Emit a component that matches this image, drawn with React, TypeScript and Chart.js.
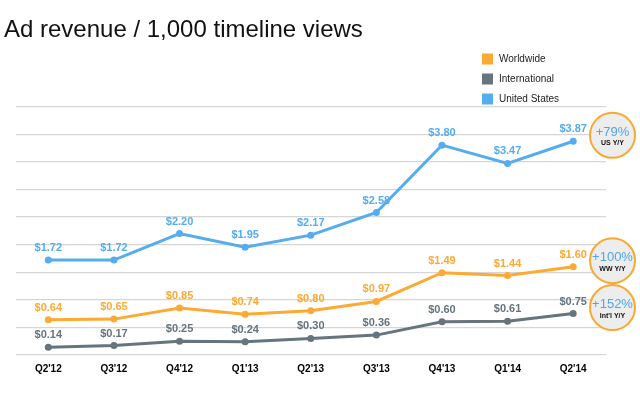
import React, { useEffect, useRef } from "react";
import { Chart, registerables } from "chart.js";

Chart.register(...registerables);

const quarters = ["Q2'12", "Q3'12", "Q4'12", "Q1'13", "Q2'13", "Q3'13", "Q4'13", "Q1'14", "Q2'14"];
const worldwide = [0.64, 0.65, 0.85, 0.74, 0.8, 0.97, 1.49, 1.44, 1.6];
const international = [0.14, 0.17, 0.25, 0.24, 0.3, 0.36, 0.6, 0.61, 0.75];
const unitedStates = [1.72, 1.72, 2.2, 1.95, 2.17, 2.58, 3.8, 3.47, 3.87];
const seriesNames = ["Worldwide", "International", "United States"];
const growthLabels = ["+100%", "+152%", "+79%"];
const growthCaptions = ["WW Y/Y", "Int'l Y/Y", "US Y/Y"];

const COLORS = ["#FBAA33", "#66747D", "#55ACEE"];
const FONT = "'Liberation Sans', Arial, sans-serif";

const overlayPlugin = {
  id: "overlay",
  afterDatasetsDraw(chart: any) {
    const ctx = chart.ctx;
    ctx.save();
    // data labels
    chart.data.datasets.forEach((ds: any, i: number) => {
      const meta = chart.getDatasetMeta(i);
      ctx.fillStyle = ds.borderColor;
      ctx.font = `bold 11px ${FONT}`;
      ctx.textAlign = "center";
      ctx.textBaseline = "middle";
      meta.data.forEach((pt: any, j: number) => {
        ctx.fillText("$" + Number(ds.data[j]).toFixed(2), pt.x, pt.y - 12);
      });
    });
    // growth circles
    const cx = 612.5;
    chart.data.datasets.forEach((ds: any, i: number) => {
      const meta = chart.getDatasetMeta(i);
      const last = meta.data[meta.data.length - 1];
      const cy = last.y - 6;
      ctx.beginPath();
      ctx.arc(cx, cy, 22.5, 0, Math.PI * 2);
      ctx.fillStyle = "#EDEDED";
      ctx.fill();
      ctx.lineWidth = 2;
      ctx.strokeStyle = "#F9A932";
      ctx.stroke();
      ctx.fillStyle = "#4FA6EA";
      ctx.font = `13px ${FONT}`;
      ctx.textAlign = "center";
      ctx.textBaseline = "middle";
      ctx.fillText(growthLabels[i], cx, cy - 3);
      ctx.fillStyle = "#111";
      ctx.font = `bold 7px ${FONT}`;
      ctx.fillText(growthCaptions[i], cx, cy + 8);
    });
    // legend
    seriesNames.forEach((name, i) => {
      const y = 59 + i * 20;
      ctx.fillStyle = COLORS[i];
      ctx.fillRect(482, y - 5.5, 11, 11);
      ctx.fillStyle = "#222";
      ctx.font = `10px ${FONT}`;
      ctx.textAlign = "left";
      ctx.textBaseline = "middle";
      ctx.fillText(name, 499, y);
    });
    // title
    ctx.fillStyle = "#111";
    ctx.font = `24px ${FONT}`;
    ctx.textAlign = "left";
    ctx.textBaseline = "alphabetic";
    ctx.fillText("Ad revenue / 1,000 timeline views", 4, 37);
    ctx.restore();
  },
};

export default function App() {
  const ref = useRef<HTMLCanvasElement | null>(null);
  useEffect(() => {
    if (!ref.current) return;
    const series = [worldwide, international, unitedStates];
    const chart = new Chart(ref.current, {
      type: "line",
      data: {
        labels: quarters,
        datasets: series.map((d, i) => ({
          label: seriesNames[i],
          data: d,
          borderColor: COLORS[i],
          backgroundColor: COLORS[i],
          borderWidth: 3,
          pointRadius: 3.5,
          pointBorderWidth: 0,
          pointBackgroundColor: COLORS[i],
          tension: 0,
          fill: false,
        })),
      },
      options: {
        responsive: false,
        animation: false,
        layout: { padding: { left: 15.5, right: 34, top: 106.5, bottom: 0 } },
        plugins: { legend: { display: false }, tooltip: { enabled: false }, title: { display: false } },
        scales: {
          x: {
            offset: true,
            grid: { display: false, drawTicks: false },
            border: { display: false },
            ticks: { color: "#000", font: { family: FONT, size: 10, weight: "bold" }, padding: 8, maxRotation: 0 },
            afterFit: (s: any) => { s.height = 42; },
          },
          y: {
            min: 0,
            max: 4.5,
            ticks: { display: false, stepSize: 0.5 },
            grid: { color: "#D6D6D6", lineWidth: 1.2, drawTicks: false },
            border: { display: false },
            afterFit: (s: any) => { s.width = 0; },
          },
        },
      },
      plugins: [overlayPlugin],
    });
    return () => chart.destroy();
  }, []);
  return (
    <div style={{ position: "absolute", left: 0, top: 0, width: 640, height: 397, background: "#fff" }}>
      <canvas ref={ref} width={640} height={397} style={{ display: "block" }} />
    </div>
  );
}
